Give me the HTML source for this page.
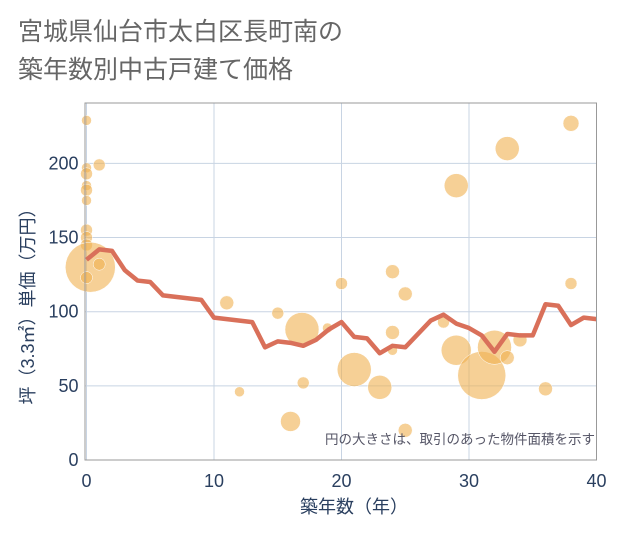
<!DOCTYPE html>
<html><head><meta charset="utf-8"><style>
body{margin:0;background:#fff;}
svg text{font-family:"Liberation Sans","Noto Sans CJK JP",sans-serif;}
</style></head><body>
<svg id="c" width="621" height="530" xmlns="http://www.w3.org/2000/svg">
<rect x="0" y="0" width="621" height="530" fill="#fff"/>
<text x="18" y="40" font-size="25" fill="#666">宮城県仙台市太白区長町南の</text>
<text x="18" y="78" font-size="25" fill="#666">築年数別中古戸建て価格</text>
<g id="grid"></g>
<g id="bubbles"></g>
<g id="line"></g>
<g id="axes"></g>
<text x="595" y="444" font-size="13.5" fill="#556" text-anchor="end">円の大きさは、取引のあった物件面積を示す</text>
<text x="354" y="513" font-size="18" fill="#2a3f5f" text-anchor="middle">築年数（年）</text>
<text transform="translate(34,302) rotate(-90)" font-size="18" fill="#2a3f5f" text-anchor="middle">坪（3.3㎡）単価（万円）</text>
</svg>
<script>
const lineYears=[0,1,2,3,4,5,6,7,8,9,10,11,12,13,14,15,16,17,18,19,20,21,22,23,24,25,26,27,28,29,30,31,32,33,34,35,36,37,38,39,40];
const linePrices=[135,142,141,128,121,120,111,110,109,108,96,95,94,93,76,80,79,77,81,88,93,83,82,72,77,76,85,94,98,92,89,84,73,85,84,84,105,104,91,96,95];
const bubbleYears=[0,0,0,0,0,0,0,0,0,0.3,1,1,0,11,12,15,16,17,16.9,18.9,20,21,23,24,25,24,24,25,28,29,29,31,32,33,33,34,36,38,38];
const bubblePrices=[229,197,193,185,182,175,155,150,145,130,199,132,123,106,46,99,26,52,88,89,119,61,49,127,112,86,74,20,93,185,74,57,76,69,210,81,48,119,227];
const bubbleRadii=[5,5,6,5,6,5,6,6,6,25,6,6,6,7,5,6,10,6,17,5,6,17,12,7,7,7,5,7,6,12,15,24,17,7,12,7,7,6,8];
const xTicks=[0,10,20,30,40];
const yTicks=[0,50,100,150,200];
const X0=86.5,X1=596.5,Y0=460,YT=103;
const xs=v=>X0+(X1-X0)*v/40;
const ys=v=>Y0-v*1.483;
const NS="http://www.w3.org/2000/svg";
function mk(t,a,p){const e=document.createElementNS(NS,t);for(const k in a)e.setAttribute(k,a[k]);p.appendChild(e);return e;}
const grid=document.getElementById('grid'),axes=document.getElementById('axes');
xTicks.forEach(t=>{
 const l=mk('line',{x1:xs(t),x2:xs(t),y1:YT,y2:Y0,stroke:'#c8d4e3','stroke-width':1},grid);
 
 
 const tx=mk('text',{x:xs(t),y:Y0+27,'font-size':18,fill:'#2a3f5f','text-anchor':'middle'},axes);tx.textContent=t;
 
 
});
yTicks.forEach(t=>{
 const l=mk('line',{x1:X0-1,x2:X1,y1:ys(t),y2:ys(t),stroke:'#c8d4e3','stroke-width':1},grid);
 
 
 const tx=mk('text',{x:X0-8,y:ys(t)+6,'font-size':18,fill:'#2a3f5f','text-anchor':'end'},axes);tx.textContent=t;
 
 
});
const frame=mk('rect',{x:X0-1.5,y:YT,width:X1-X0+1.5,height:Y0-YT,fill:'none',stroke:'#999','stroke-width':1},axes);


const bg=document.getElementById('bubbles');
bubbleYears.forEach((y,i)=>{
 const c=mk('circle',{cx:xs(y),cy:ys(bubblePrices[i]),r:bubbleRadii[i],fill:'#f0b050','fill-opacity':0.6,stroke:'#fff','stroke-width':0.5},bg);
 
 
});
const pts=lineYears.map((y,i)=>xs(y)+','+ys(linePrices[i])).join(' ');
const pl=mk('polyline',{points:pts,fill:'none',stroke:'#d9705a','stroke-width':4.5,'stroke-linejoin':'round'},document.getElementById('line'));


</script>
</body></html>
